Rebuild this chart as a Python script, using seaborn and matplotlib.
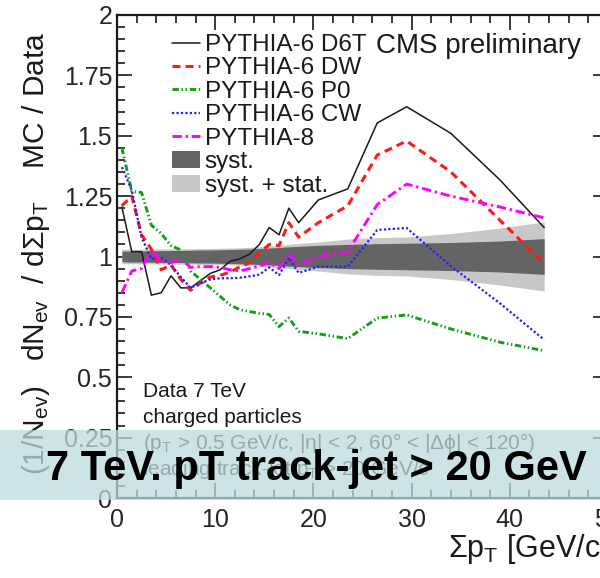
import matplotlib
matplotlib.use("Agg")
import matplotlib.pyplot as plt
from matplotlib.lines import Line2D
from matplotlib.patches import Patch, Rectangle
from matplotlib.ticker import MultipleLocator, FixedLocator, FixedFormatter
import numpy as np
import pandas as pd
import seaborn as sns

# ---- data: MC / Data ratio vs summed pT -------------------------------------
sum_pt = [0.5, 1.5, 2.5, 3.5, 4.5, 5.5, 6.5, 7.5, 8.5, 9.5, 10.5, 11.5, 12.5,
          13.5, 14.5, 15.5, 16.5, 17.5, 18.5, 20.5, 23.5, 26.5, 29.5, 34.0,
          39.0, 43.5]

d6t = [1.205, 1.02, 1.02, 0.84, 0.85, 0.92, 0.87, 0.87, 0.90, 0.93, 0.945,
       0.98, 0.99, 1.01, 1.05, 1.12, 1.09, 1.20, 1.14, 1.234, 1.28, 1.553,
       1.62, 1.51, 1.317, 1.12]
dw = [1.21, 1.25, 1.09, 1.03, 0.945, 0.965, 0.905, 0.86, 0.89, 0.915, 0.922,
      0.935, 0.957, 0.975, 1.015, 1.05, 1.045, 1.14, 1.08, 1.14, 1.21, 1.42,
      1.478, 1.35, 1.15, 0.97]
p0 = [1.45, 1.27, 1.265, 1.13, 1.095, 1.045, 1.027, 0.94, 0.905, 0.87, 0.835,
      0.80, 0.78, 0.772, 0.765, 0.76, 0.71, 0.745, 0.69, 0.68, 0.66, 0.745,
      0.758, 0.70, 0.645, 0.61]
cw = [1.37, 1.275, 1.08, 0.99, 0.995, 0.965, 0.915, 0.87, 0.89, 0.905, 0.91,
      0.91, 0.912, 0.918, 0.925, 0.955, 0.923, 0.995, 0.932, 0.958, 0.958,
      1.11, 1.118, 0.96, 0.806, 0.655]
py8 = [0.85, 0.94, 0.95, 1.025, 0.98, 0.975, 0.99, 0.955, 0.958, 0.958, 0.955,
       0.945, 0.94, 0.95, 0.96, 0.975, 0.95, 1.01, 0.965, 0.999, 1.02, 1.215,
       1.30, 1.25, 1.205, 1.16]

# uncertainty bands around unity
syst_err = [0.022, 0.023, 0.023, 0.024, 0.024, 0.025, 0.025, 0.026, 0.027,
            0.027, 0.028, 0.029, 0.030, 0.031, 0.033, 0.035, 0.037, 0.040,
            0.042, 0.046, 0.050, 0.053, 0.055, 0.058, 0.064, 0.074]
total_err = [0.030, 0.030, 0.030, 0.031, 0.031, 0.031, 0.032, 0.032, 0.033,
             0.033, 0.034, 0.035, 0.036, 0.038, 0.040, 0.043, 0.046, 0.050,
             0.054, 0.060, 0.072, 0.078, 0.081, 0.095, 0.118, 0.143]

tune_names = ["PYTHIA-6 D6T", "PYTHIA-6 DW", "PYTHIA-6 P0", "PYTHIA-6 CW",
              "PYTHIA-8"]
y_tick_values = [0, 0.25, 0.5, 0.75, 1, 1.25, 1.5, 1.75, 2]
y_tick_labels = ["0", "0.25", "0.5", "0.75", "1", "1.25", "1.5", "1.75", "2"]

# ---- styling ----------------------------------------------------------------
sns.set_style("ticks")
plt.rcParams["font.family"] = ["Liberation Sans", "DejaVu Sans"]
plt.rcParams["mathtext.fontset"] = "custom"
plt.rcParams["mathtext.rm"] = "Liberation Sans"
plt.rcParams["mathtext.it"] = "Liberation Sans"
plt.rcParams["mathtext.bf"] = "Liberation Sans:bold"
plt.rcParams["mathtext.sf"] = "Liberation Sans"
plt.rcParams["text.color"] = "#1a1a1a"

line_styles = {
    "PYTHIA-6 D6T": dict(color="#1a1a1a", linestyle="-", linewidth=1.1),
    "PYTHIA-6 DW": dict(color="#ff1a1a", linestyle=(0, (2.6, 1.7)), linewidth=2.2),
    "PYTHIA-6 P0": dict(color="#14a014", linestyle=(0, (2.2, 0.9, 0.5, 0.9, 0.5, 0.9)), linewidth=2.1),
    "PYTHIA-6 CW": dict(color="#2020ff", linestyle=(0, (1, 1)), linewidth=1.6),
    "PYTHIA-8": dict(color="#ff00ff", linestyle=(0, (3.2, 1.3, 0.8, 1.3)), linewidth=2.1),
}

df = pd.DataFrame({
    "sum_pt": sum_pt * 5,
    "ratio": d6t + dw + p0 + cw + py8,
    "tune": np.repeat(tune_names, len(sum_pt)),
})

fig = plt.figure(figsize=(6.0, 5.78), dpi=100)
ax = fig.add_axes([117 / 600, 80 / 578, 491 / 600, 483 / 578])

# uncertainty bands
x_arr = np.array(sum_pt)
tot = np.array(total_err)
sy = np.array(syst_err)
ax.fill_between(x_arr, 1 - tot, 1 + tot, color="#c8c8c8", lw=0, zorder=1)
ax.fill_between(x_arr, 1 - sy, 1 + sy, color="#646464", lw=0, zorder=2)

# model curves
for name in tune_names:
    sub = df[df["tune"] == name]
    sns.lineplot(data=sub, x="sum_pt", y="ratio", ax=ax, estimator=None,
                 sort=False, legend=False, zorder=3, **line_styles[name])

ax.set_xlim(0, 50)
ax.set_ylim(0, 2)
ax.set_xlabel("")
ax.set_ylabel("")

ax.xaxis.set_major_locator(MultipleLocator(10))
ax.xaxis.set_minor_locator(MultipleLocator(2))
ax.yaxis.set_major_locator(FixedLocator(y_tick_values))
ax.yaxis.set_major_formatter(FixedFormatter(y_tick_labels))
ax.yaxis.set_minor_locator(MultipleLocator(0.05))

ax.tick_params(which="both", direction="in", top=True, right=True,
               color="#1a1a1a", width=1.2)
ax.tick_params(which="major", length=10.5, labelsize=18)
ax.tick_params(which="minor", length=5.5)
ax.tick_params(axis="y", pad=3.5)
ax.tick_params(axis="x", pad=7)
for sp in ax.spines.values():
    sp.set_linewidth(1.6)
    sp.set_color("#1a1a1a")
    sp.set_visible(True)

# legend
handles = [Line2D([0], [0], **line_styles[n]) for n in tune_names]
handles += [Patch(facecolor="#646464", edgecolor="none"),
            Patch(facecolor="#c8c8c8", edgecolor="none")]
labels = tune_names + ["syst.", "syst. + stat."]
ax.legend(handles, labels, loc="upper left",
          bbox_to_anchor=(172 / 600, 1 - 34 / 578),
          bbox_transform=fig.transFigure, frameon=False, fontsize=17.5,
          handlelength=1.15, handleheight=0.7, handletextpad=0.2,
          labelspacing=0.06, borderpad=0, borderaxespad=0)

fig.text(376 / 600, 1 - 53 / 578, "CMS preliminary", fontsize=20,
         ha="left", va="baseline")

# selection text
info_lines = ["Data 7 TeV", "charged particles",
              r"(p$_{\rm T}$ > 0.5 GeV/c, |$\eta$| < 2, 60° < |$\Delta\phi$| < 120°)",
              r"leading track-jet p$_{\rm T}$ > 20 GeV/c"]
for i, t in enumerate(info_lines):
    fig.text(143 / 600, 1 - (397 + 26 * i) / 578, t, fontsize=15,
             ha="left", va="baseline")

# axis titles
fig.text(36 / 600, 1 - 32 / 578,
         r"$(1/N_{\rm ev})\ \ \ dN_{\rm ev}\ \ /\ d\Sigma p_{\rm T}$    MC / Data",
         rotation=90, fontsize=21.5, ha="center", va="top")
fig.text(608 / 600, 1 - 557 / 578, r"$\Sigma p_{\rm T}$ [GeV/c]",
         fontsize=22, ha="right", va="baseline")

# title banner
fig.add_artist(Rectangle((0, 78 / 578), 1, 70 / 578, transform=fig.transFigure,
                         facecolor="#bcdcde", edgecolor="none", alpha=0.75,
                         zorder=20))
fig.text(316 / 600, 1 - 480 / 578, "7 TeV. pT track-jet > 20 GeV",
         fontsize=30, fontweight="bold", color="black", ha="center",
         va="baseline", zorder=21)

fig.savefig("out.png", dpi=100)
